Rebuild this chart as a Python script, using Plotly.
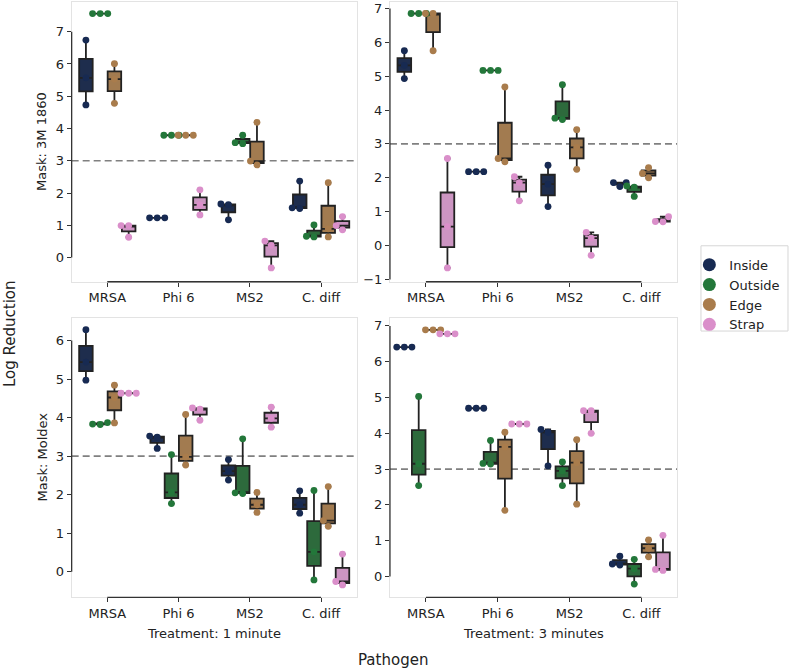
import math
import plotly.graph_objects as go

# ---------------- data ----------------
pathogens = ["MRSA", "Phi 6", "MS2", "C. diff"]
locations = ["Inside", "Outside", "Edge", "Strap"]

# Mask: 3M 1860, Treatment: 1 minute  (per pathogen: three replicates)
m3m_1min_inside = [[4.73, 5.57, 6.74], [1.23, 1.23, 1.23], [1.17, 1.64, 1.66], [1.52, 1.54, 2.37]]
m3m_1min_outside = [[7.56, 7.56, 7.56], [3.79, 3.79, 3.79], [3.53, 3.56, 3.79], [0.64, 0.66, 1.01]]
m3m_1min_edge = [[4.78, 5.53, 6.01], [3.79, 3.79, 3.79], [2.87, 2.99, 4.19], [0.64, 0.89, 2.32]]
m3m_1min_strap = [[0.63, 0.99, 0.99], [1.32, 1.63, 2.10], [-0.32, 0.38, 0.51], [0.86, 0.99, 1.27]]

# Mask: 3M 1860, Treatment: 3 minutes
m3m_3min_inside = [[4.93, 5.32, 5.75], [2.18, 2.18, 2.18], [1.15, 1.81, 2.37], [1.74, 1.86, 1.86]]
m3m_3min_outside = [[6.85, 6.85, 6.85], [5.17, 5.17, 5.17], [3.72, 3.76, 4.75], [1.45, 1.72, 1.76]]
m3m_3min_edge = [[5.75, 6.85, 6.85], [2.47, 2.57, 4.68], [2.25, 2.90, 3.42], [2.00, 2.13, 2.30]]
m3m_3min_strap = [[-0.66, 0.56, 2.57], [1.32, 1.86, 2.03], [-0.29, 0.22, 0.39], [0.70, 0.71, 0.85]]

# Mask: Moldex, Treatment: 1 minute
mold_1min_inside = [[4.97, 5.44, 6.28], [3.20, 3.49, 3.52], [2.38, 2.61, 2.91], [1.52, 1.74, 2.10]]
mold_1min_outside = [[3.82, 3.83, 3.87], [1.77, 2.06, 3.04], [2.03, 2.05, 3.45], [-0.21, 0.52, 2.11]]
mold_1min_edge = [[3.86, 4.52, 4.84], [2.77, 2.98, 4.08], [1.54, 1.74, 2.06], [1.18, 1.33, 2.21]]
mold_1min_strap = [[4.63, 4.63, 4.63], [3.93, 4.22, 4.25], [3.75, 3.98, 4.27], [-0.34, -0.25, 0.46]]

# Mask: Moldex, Treatment: 3 minutes
mold_3min_inside = [[6.41, 6.41, 6.41], [4.70, 4.70, 4.70], [3.09, 4.03, 4.11], [0.32, 0.35, 0.57]]
mold_3min_outside = [[2.54, 3.15, 5.03], [3.14, 3.16, 3.80], [2.54, 2.95, 3.20], [-0.21, 0.22, 0.48]]
mold_3min_edge = [[6.89, 6.89, 6.89], [1.85, 3.62, 4.03], [2.02, 3.18, 3.82], [0.55, 0.79, 1.02]]
mold_3min_strap = [[6.78, 6.78, 6.78], [4.26, 4.26, 4.26], [4.00, 4.63, 4.63], [0.17, 0.20, 1.15]]

threshold = 3
y_tick_values = [
    list(range(0, 8)),
    list(range(-1, 8)),
    list(range(0, 7)),
    list(range(0, 8)),
]

# ---------------- styling ----------------
W, H = 791, 671
point_colors = ["#172a52", "#23773a", "#a97c4c", "#da8fca"]
box_colors = ["#1e2d4d", "#2d6a3c", "#a27b50", "#cc95c2"]
edge_color = "#222222"
text_color = "#222222"
font_family = "DejaVu Sans"

panels = [
    dict(data=[m3m_1min_inside, m3m_1min_outside, m3m_1min_edge, m3m_1min_strap],
         xdom=[0.0906, 0.4510], ydom=[0.5778, 0.9985], yrange=[-0.75, 7.92]),
    dict(data=[m3m_3min_inside, m3m_3min_outside, m3m_3min_edge, m3m_3min_strap],
         xdom=[0.4930, 0.8563], ydom=[0.5778, 0.9985], yrange=[-1.07, 7.19]),
    dict(data=[mold_1min_inside, mold_1min_outside, mold_1min_edge, mold_1min_strap],
         xdom=[0.0906, 0.4510], ydom=[0.1033, 0.5238], yrange=[-0.66, 6.59]),
    dict(data=[mold_3min_inside, mold_3min_outside, mold_3min_edge, mold_3min_strap],
         xdom=[0.4930, 0.8563], ydom=[0.1033, 0.5238], yrange=[-0.58, 7.23]),
]
xrange_ = [-0.5, 3.5]
hue_offsets = [-0.3, -0.1, 0.1, 0.3]
box_width = 0.19
swarm_d = 7.6  # px spacing between swarm points


def swarm_offsets(vals, yscale, d):
    order = sorted(range(len(vals)), key=lambda i: vals[i])
    placed = []
    out = [0.0] * len(vals)
    for i in order:
        y = vals[i] * yscale
        cands = [0.0]
        for (px, py) in placed:
            dy = abs(py - y)
            if dy < d:
                dx = math.sqrt(d * d - dy * dy)
                cands += [px - dx, px + dx]
        cands = sorted(set(cands), key=lambda c: (abs(c), c))
        chosen = cands[-1]
        for c in cands:
            if all(math.hypot(c - px, y - py) >= d - 1e-6 for (px, py) in placed):
                chosen = c
                break
        placed.append((chosen, y))
        out[i] = chosen
    return out


fig = go.Figure()
shapes = []

for k, p in enumerate(panels):
    sfx = "" if k == 0 else str(k + 1)
    xa, ya = "x" + sfx, "y" + sfx
    wpx = (p["xdom"][1] - p["xdom"][0]) * W
    hpx = (p["ydom"][1] - p["ydom"][0]) * H
    xscale = wpx / (xrange_[1] - xrange_[0])
    yscale = hpx / (p["yrange"][1] - p["yrange"][0])

    for h, loc in enumerate(locations):
        series = p["data"][h]
        bx, by = [], []
        for ci, vals in enumerate(series):
            for v in vals:
                bx.append(ci + hue_offsets[h])
                by.append(v)
        fig.add_trace(go.Box(
            x=bx, y=by, xaxis=xa, yaxis=ya, width=box_width,
            quartilemethod="inclusive",
            fillcolor=box_colors[h], line=dict(color=edge_color, width=1.8),
            boxpoints=False, whiskerwidth=0.45, showlegend=False,
            hoverinfo="skip", name=loc,
        ))
    for h, loc in enumerate(locations):
        series = p["data"][h]
        sx, sy = [], []
        for ci, vals in enumerate(series):
            offs = swarm_offsets(vals, yscale, swarm_d)
            for v, o in zip(vals, offs):
                sx.append(ci + hue_offsets[h] + o / xscale)
                sy.append(v)
        fig.add_trace(go.Scatter(
            x=sx, y=sy, xaxis=xa, yaxis=ya, mode="markers",
            marker=dict(color=point_colors[h], size=6.8, line=dict(width=0)),
            showlegend=False, name=loc,
        ))

    ticks = y_tick_values[k]
    axis_common = dict(showgrid=False, zeroline=False, showline=True, mirror=True,
                       linecolor="#e3e3e3", linewidth=1, ticks="outside", ticklen=4,
                       tickwidth=1.2, tickcolor="#333333",
                       tickfont=dict(size=13, color=text_color, family=font_family))
    fig.update_layout(**{
        "xaxis" + sfx: dict(domain=p["xdom"], range=xrange_, anchor=ya,
                            tickvals=list(range(len(pathogens))), ticktext=pathogens,
                            **axis_common),
        "yaxis" + sfx: dict(domain=p["ydom"], range=p["yrange"], anchor=xa,
                            tickvals=ticks, **axis_common),
    })
    # trimmed dark spines
    shapes.append(dict(type="line", xref=xa + " domain", yref=ya, x0=0, x1=0,
                       y0=ticks[0], y1=ticks[-1], line=dict(color="#333333", width=1.3)))
    shapes.append(dict(type="line", xref=xa, yref=ya + " domain", x0=0, x1=len(pathogens) - 1,
                       y0=0, y1=0, line=dict(color="#333333", width=1.3)))
    # threshold line
    shapes.append(dict(type="line", xref=xa + " domain", yref=ya, x0=0, x1=1,
                       y0=threshold, y1=threshold, layer="below",
                       line=dict(color="#808080", width=1.6, dash="7px,4px")))

# legend frame (matplotlib-like box)
shapes.append(dict(type="rect", xref="paper", yref="paper",
                   x0=0.8862, x1=0.9962, y0=0.5037, y1=0.6319,
                   line=dict(color="#d6d6d6", width=1), fillcolor="rgba(0,0,0,0)"))

# legend entries
for h, loc in enumerate(locations):
    fig.add_trace(go.Scatter(x=[None], y=[None], mode="markers", name=loc,
                             marker=dict(color=point_colors[h], size=13)))

annotations = [
    dict(text="Mask: 3M 1860", x=0.0531, y=0.788, textangle=-90, font=dict(size=13)),
    dict(text="Mask: Moldex", x=0.0531, y=0.3136, textangle=-90, font=dict(size=13)),
    dict(text="Log Reduction", x=0.0126, y=0.5007, textangle=-90, font=dict(size=15)),
    dict(text="Treatment: 1 minute", x=0.2708, y=0.0495, font=dict(size=13)),
    dict(text="Treatment: 3 minutes", x=0.6747, y=0.0495, font=dict(size=13)),
    dict(text="Pathogen", x=0.4968, y=0.0085, font=dict(size=15)),
]
for a in annotations:
    a.update(xref="paper", yref="paper", showarrow=False, xanchor="center", yanchor="middle")
    a["font"].update(color=text_color, family=font_family)

fig.update_layout(
    width=W, height=H, margin=dict(l=0, r=0, t=0, b=0),
    paper_bgcolor="white", plot_bgcolor="white", boxmode="overlay",
    font=dict(family=font_family, color=text_color, size=13),
    shapes=shapes, annotations=annotations,
    legend=dict(x=0.8715, y=0.6260, xanchor="left", yanchor="top",
                borderwidth=0, bgcolor="rgba(0,0,0,0)",
                font=dict(size=13, color=text_color, family=font_family),
                itemwidth=30, tracegroupgap=0),
)

fig.write_html("out.html", config={"displayModeBar": False},
               post_script="document.body.style.margin='0px';document.body.style.overflow='hidden';")
